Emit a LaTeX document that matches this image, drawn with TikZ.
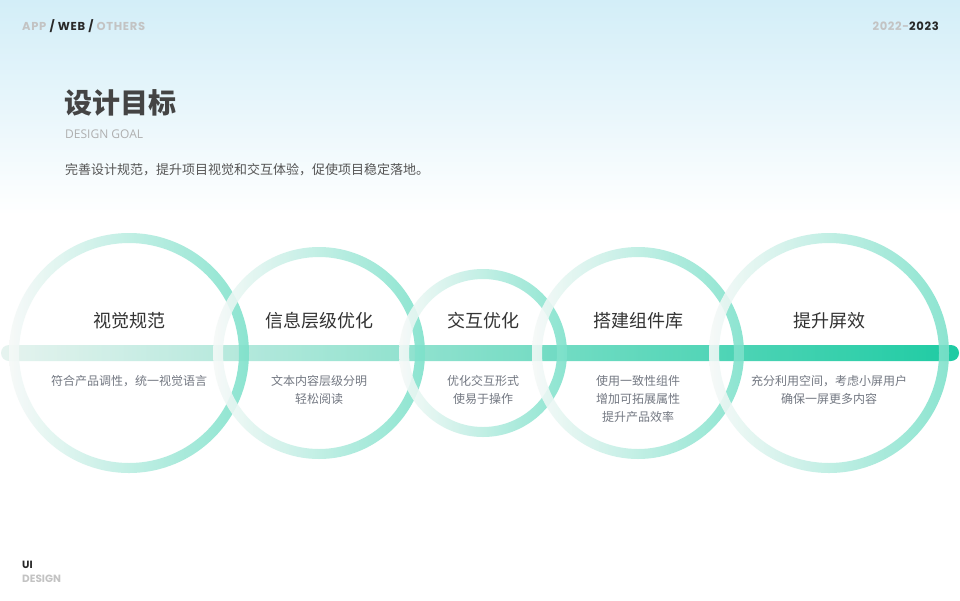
\documentclass[tikz,border=0pt]{standalone}
\usepackage{fontspec}
\setmainfont{Noto Sans CJK SC}
\newfontfamily\cjkfont{Noto Sans CJK SC}
\newfontfamily\heavyfont{Poppins}[LetterSpace=6]
\newfontfamily\footfont{Poppins}
\newfontfamily\latinfont{Open Sans}
\definecolor{bgTop}{RGB}{211,238,248}
\definecolor{bgMid}{RGB}{232,246,251}
\definecolor{barL}{RGB}{228,242,238}
\definecolor{barR}{RGB}{12,199,156}
\definecolor{ringL}{RGB}{246,249,248}
\definecolor{ringM}{RGB}{208,242,233}
\definecolor{ringR}{RGB}{124,225,202}
\definecolor{titleC}{RGB}{51,51,51}
\definecolor{descC}{RGB}{115,120,130}
\definecolor{subC}{RGB}{85,85,85}
\definecolor{lightC}{RGB}{195,195,195}
\definecolor{darkC}{RGB}{40,40,40}
\tikzset{
  ringshade/.style={left color=ringL, middle color=ringM, right color=ringR, even odd rule, fill opacity=0.88},
  steptitle/.style={anchor=base, inner sep=0pt, text=titleC, font=\cjkfont\fontsize{18}{22}\selectfont},
  stepdesc/.style={anchor=north, inner sep=0pt, align=center, text=descC, font=\cjkfont\fontsize{12}{18}\selectfont},
  headtag/.style={inner sep=0pt, font=\heavyfont\bfseries\fontsize{11.5}{13}\selectfont},
  foottag/.style={inner sep=0pt, font=\footfont\bfseries\fontsize{10.5}{13}\selectfont},
}
\begin{document}
\begin{tikzpicture}[x=1pt,y=-1pt]
\useasboundingbox (0,0) rectangle (960,600);
% background
\fill[white] (0,0) rectangle (960,600);
\shade[top color=bgTop, bottom color=white, middle color=bgMid] (0,0) rectangle (960,215);

% header tags
\node[headtag, anchor=base west] (tags) at (22,30) {\textcolor{lightC}{APP} \textcolor{darkC}{/ WEB /} \textcolor{lightC}{OTHERS}};
\node[headtag, anchor=base east] (years) at (939,30) {\textcolor{lightC}{2022-}\textcolor{darkC}{2023}};

% title block
\node[anchor=base west, inner sep=0pt, text=subC!80!black, font=\cjkfont\bfseries\fontsize{28}{32}\selectfont] (title) at (64,113) {设计目标};
\node[anchor=base west, inner sep=0pt, text=lightC!90!black, font=\latinfont\fontsize{12}{14}\selectfont] (goal) at (65,138) {DESIGN GOAL};
\node[anchor=base west, inner sep=0pt, text=subC, font=\cjkfont\fontsize{13}{16}\selectfont] (sub) at (65,174.5) {完善设计规范，提升项目视觉和交互体验，促使项目稳定落地。};

% centres
\coordinate (c1) at (129,353);
\coordinate (c2) at (319,353);
\coordinate (c3) at (483,353);
\coordinate (c4) at (638,353);
\coordinate (c5) at (829,353);

% bar
\shade[left color=barL, right color=barR, rounded corners=8pt, fill opacity=0.92] (1,345) rectangle (959,361);

% rings
\shade[ringshade] (c1) circle (120pt) (c1) circle (110pt);
\shade[ringshade] (c2) circle (106pt) (c2) circle (96pt);
\shade[ringshade] (c3) circle (84pt) (c3) circle (74pt);
\shade[ringshade] (c4) circle (106pt) (c4) circle (96pt);
\shade[ringshade] (c5) circle (120pt) (c5) circle (110pt);

% titles
\node[steptitle] (t1) at (129,327) {视觉规范};
\node[steptitle] (t2) at (319,327) {信息层级优化};
\node[steptitle] (t3) at (483,327) {交互优化};
\node[steptitle] (t4) at (638,327) {搭建组件库};
\node[steptitle] (t5) at (829,327) {提升屏效};

% descriptions
\node[stepdesc] (d1) at (129,375) {符合产品调性，统一视觉语言};
\node[stepdesc] (d2) at (319,375) {文本内容层级分明\\轻松阅读};
\node[stepdesc] (d3) at (483,375) {优化交互形式\\使易于操作};
\node[stepdesc] (d4) at (638,375) {使用一致性组件\\增加可拓展属性\\提升产品效率};
\node[stepdesc] (d5) at (829,375) {充分利用空间，考虑小屏用户\\确保一屏更多内容};

% footer
\node[foottag, anchor=base west, text=darkC] (ui) at (22,568) {UI};
\node[foottag, anchor=base west, text=lightC] (design) at (22,582) {DESIGN};
\end{tikzpicture}
\end{document}
